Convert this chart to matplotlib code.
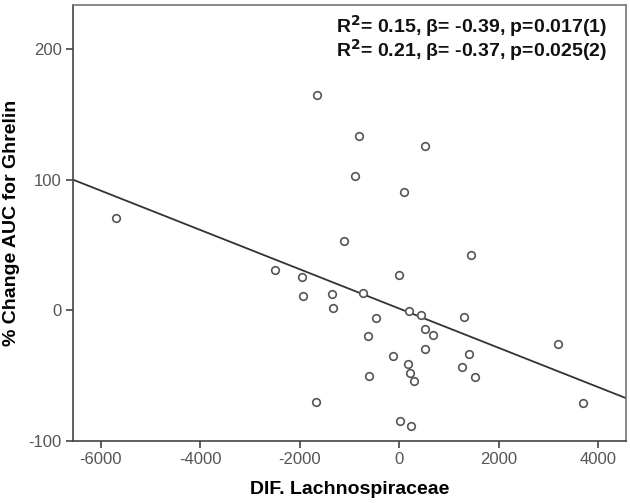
import numpy as np
import matplotlib
matplotlib.use('Agg')
from matplotlib import pyplot as plt

plt.rcParams['font.family'] = ['Liberation Sans', 'DejaVu Sans']
plt.rcParams['axes.unicode_minus'] = False

# data
dif_lachno = [-5682, -1654, -798, 529, -878, 107, -1099, 1454,
              -2492, -1956, -1930, -1668,
              -1353, -1327, -724, -7, -469, -616, -603, -114,
              194, 442, 523, 690, 516, 174, 228, 295,
              1307, 1401, 1260, 1528, 3203, 3692, 27, 241]
auc_change = [70.8, 164.9, 133.6, 125.7, 102.8, 90.6, 53.4, 42.5,
              30.8, 25.4, 11.2, -70.0,
              12.7, 1.5, 13.2, 27.2, -6.1, -19.6, -50.1, -35.1,
              -0.5, -3.6, -14.2, -18.6, -29.8, -41.2, -48.1, -54.2,
              -4.8, -33.1, -43.5, -51.4, -25.7, -70.7, -84.5, -88.8]

# regression line (intercept, slope)
fit_b0 = 1.4
fit_b1 = -0.01504

stats_lines = [r'R$^\mathbf{2}$= 0.15, β= -0.39, p=0.017(1)',
               r'R$^\mathbf{2}$= 0.21, β= -0.37, p=0.025(2)']

xlim = (-6553, 4563)
ylim = (-100, 233.6)

fig = plt.figure(figsize=(6.3, 5.03), dpi=100)
ax = fig.add_axes([0.1159, 0.1233, 0.9937 - 0.1159, 0.990 - 0.1233])

xx = np.array(xlim)
ax.plot(xx, fit_b0 + fit_b1 * xx, color='#333333', lw=1.3, zorder=2)
ax.scatter(dif_lachno, auc_change, s=30, facecolors='white',
           edgecolors='#555555', linewidths=1.2, zorder=3)

ax.set_xlim(xlim)
ax.set_ylim(ylim)
ax.set_xticks([-6000, -4000, -2000, 0, 2000, 4000])
ax.set_yticks([-100, 0, 100, 200])
ax.tick_params(direction='out', length=5, width=1.2, color='#444444',
               labelcolor='#555555', labelsize=12, pad=3)
for sp in ax.spines.values():
    sp.set_color('#777777')
    sp.set_linewidth(1.2)
ax.spines['left'].set_color('#444444')
ax.spines['bottom'].set_color('#444444')

ax.set_xlabel('DIF. Lachnospiraceae', fontsize=14, fontweight='bold', labelpad=10)
ax.set_ylabel('% Change AUC for Ghrelin', fontsize=14, fontweight='bold', labelpad=4)
ax.yaxis.set_label_coords(-0.095, 0.5)

for i, s in enumerate(stats_lines):
    fig.text(607 / 630, 1 - (33 + 24 * i) / 503, s, ha='right', va='baseline',
             fontsize=14, fontweight='bold', color='#111111')

fig.savefig('out.png', dpi=100)
